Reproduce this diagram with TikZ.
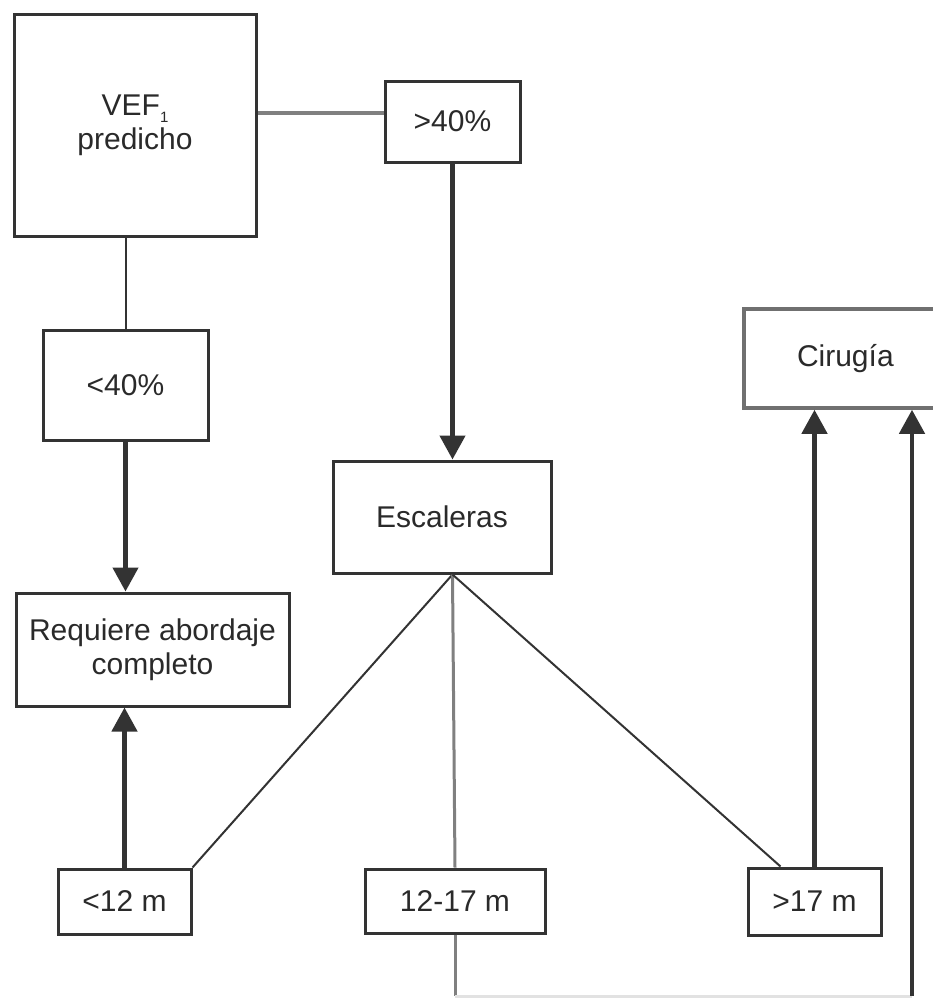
\documentclass[tikz,border=0pt]{standalone}
\usepackage{fontspec}
\setmainfont{Liberation Sans}
\usetikzlibrary{arrows.meta,calc}
\definecolor{ink}{HTML}{333333}
\definecolor{txt}{HTML}{2A2A2A}
\definecolor{lgray}{HTML}{808080}
\definecolor{mgray}{HTML}{707070}
\definecolor{pale}{HTML}{E2E2E2}
\tikzset{
  box/.style={draw=ink, line width=3pt, fill=white, inner sep=0pt, align=center,
    text=txt, font=\fontsize{30}{34}\selectfont},
  flow/.style={draw=ink, line width=4.5pt, -{Triangle[length=24pt,width=25pt]}},
  thin/.style={draw=ink, line width=2pt},
  link/.style={draw=lgray, line width=3.5pt},
}
\begin{document}
\begin{tikzpicture}[x=1pt,y=-1pt]
\useasboundingbox (0,0) rectangle (933,999);
\clip (0,0) rectangle (933,999);

% boxes
\node[box, minimum width=242pt, minimum height=222pt] (vef) at (135,125)
  {VEF\raisebox{-7pt}{\fontsize{15}{15}\selectfont 1}\\predicho};
\node[box, minimum width=135pt, minimum height=81pt] (gt40) at (452.5,121.5) {>40\%};
\node[box, minimum width=165pt, minimum height=110pt] (lt40) at (125.5,385) {<40\%};
\node[box, minimum width=273pt, minimum height=113pt] (req) at (152.5,649.5) {Requiere abordaje\\completo};
\node[box, minimum width=218pt, minimum height=112pt] (esc) at (442,517) {Escaleras};
\node[box, minimum width=133pt, minimum height=65pt] (lt12) at (124.5,901.5) {<12 m};
\node[box, minimum width=180pt, minimum height=64pt] (m1217) at (455,901) {12-17 m};
\node[box, minimum width=133pt, minimum height=67pt] (gt17) at (814.5,901.5) {>17 m};
\node[box, draw=mgray, line width=3.5pt, minimum width=232pt, minimum height=99pt,
  text width=202pt, align=left] (cir) at (860,358.5) {\hspace*{38pt}Cirugía};

% VEF1 branches
\draw[link] ([yshift=8.5pt]gt40.west) -- ([yshift=8.5pt]gt40.west -| vef.east);
\draw[thin] (lt40.north) -- (lt40.north |- vef.south);
\draw[flow] (gt40.south) -- (gt40.south |- esc.north);
\draw[flow] (lt40.south) -- (lt40.south |- req.north);

% stair test outcomes
\coordinate (hub) at (gt40.south |- esc.south);
\draw[thin] (hub) -- (lt12.north east);
\draw[link, line width=3pt] (hub) -- (m1217.north);
\draw[thin] (hub) -- ([xshift=-34pt]gt17.north);
\draw[flow] (lt12.north) -- (lt12.north |- req.south);
\draw[flow] (gt17.north) -- (gt17.north |- cir.south);

% 12-17 m route to surgery
\coordinate (rt) at (912,996);
\draw[link, line width=3pt] (m1217.south) -- (m1217.south |- rt);
\draw[draw=pale, line width=3pt] (m1217.south |- rt) -- (rt);
\draw[flow] (rt) -- (rt |- cir.south);
\end{tikzpicture}
\end{document}
